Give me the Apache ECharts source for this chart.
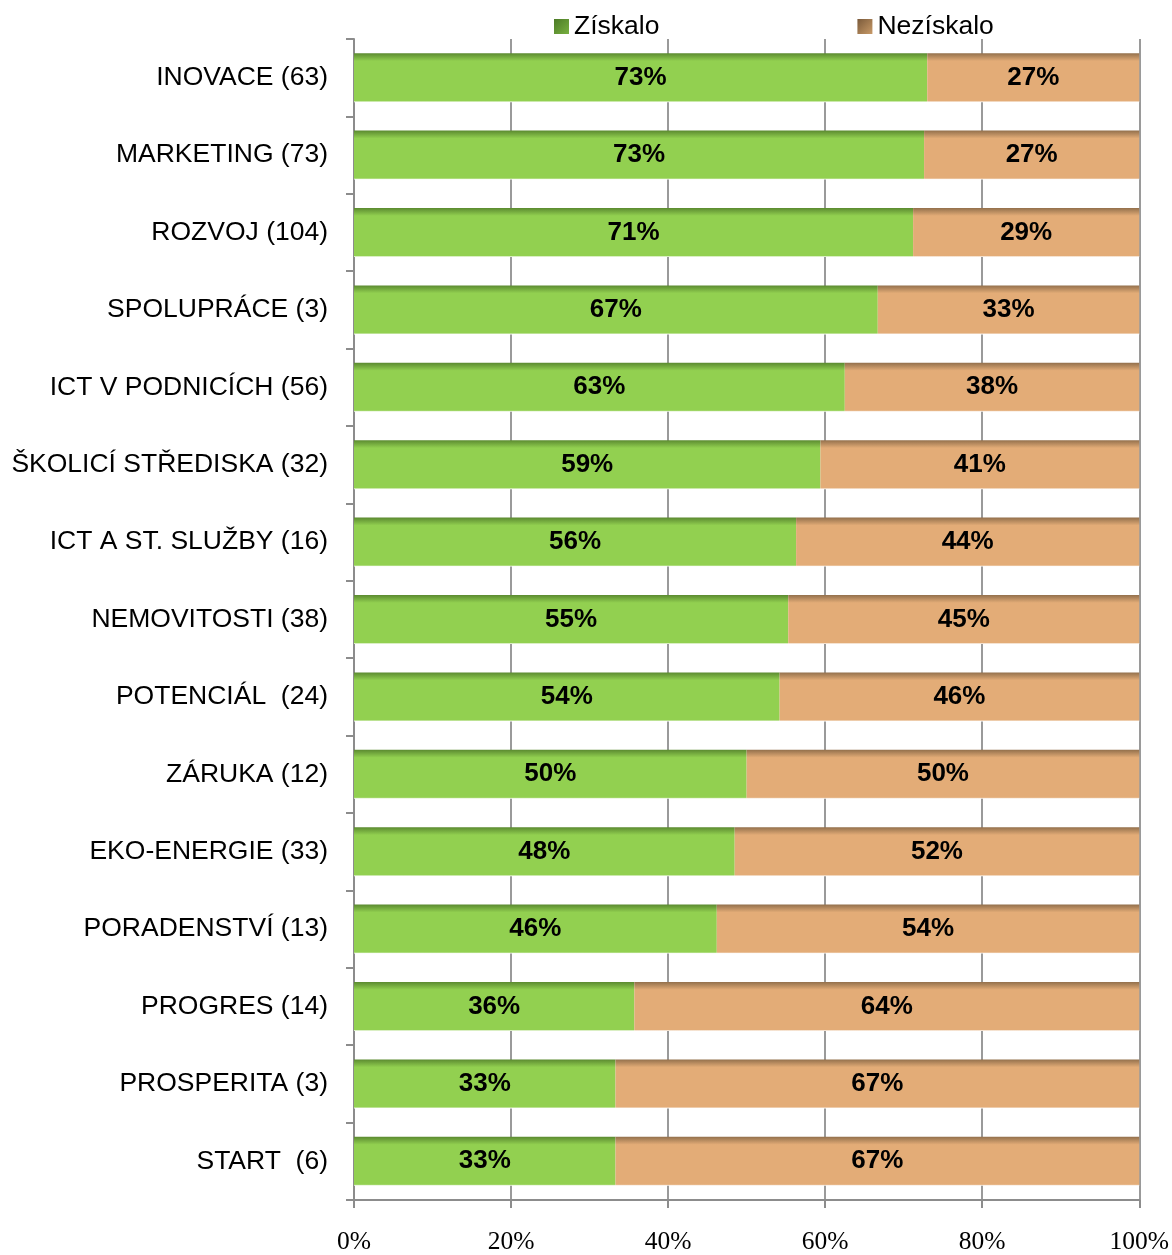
<!DOCTYPE html>
<html>
<head>
<meta charset="utf-8">
<script src="https://cdn.jsdelivr.net/npm/echarts@6/dist/echarts.min.js"></script>
<style>
html,body{margin:0;padding:0;background:#fff;}
#chart{width:1172px;height:1255px;}
</style>
</head>
<body>
<div id="chart"></div>
<script>
var categories = ['INOVACE (63)','MARKETING (73)','ROZVOJ (104)','SPOLUPRÁCE (3)','ICT V PODNICÍCH (56)','ŠKOLICÍ STŘEDISKA (32)','ICT A ST. SLUŽBY (16)','NEMOVITOSTI (38)','POTENCIÁL  (24)','ZÁRUKA (12)','EKO-ENERGIE (33)','PORADENSTVÍ (13)','PROGRES (14)','PROSPERITA (3)','START  (6)'];
var ziskalo = [73.0, 72.6, 71.2, 66.7, 62.5, 59.4, 56.3, 55.3, 54.2, 50.0, 48.48, 46.2, 35.7, 33.3, 33.3];
var neziskalo = [27.0, 27.4, 28.8, 33.3, 37.5, 40.6, 43.7, 44.7, 45.8, 50.0, 51.52, 53.8, 64.3, 66.7, 66.7];
var xTicks = [0, 20, 40, 60, 80, 100];

function vgrad(dark, main){
  return new echarts.graphic.LinearGradient(0,0,0,1,[
    {offset:0,color:dark},{offset:0.16,color:main},{offset:0.97,color:main},{offset:1,color:'#ffffff'}]);
}
var chart = echarts.init(document.getElementById('chart'));
var labelStyle = {show:true, position:'inside', color:'#000', fontFamily:'Liberation Sans, Arial, sans-serif', fontWeight:'bold', fontSize:26,
  formatter:function(p){return Math.round(p.value)+'%';}};
chart.setOption({
  animation:false,
  backgroundColor:'#ffffff',
  legend:{
    left:549, top:8, itemWidth:15, itemHeight:15, itemGap:198,
    textStyle:{fontFamily:'Liberation Sans, Arial, sans-serif', fontSize:26.5, color:'#000'},
    data:[
      {name:'Získalo', icon:'rect', itemStyle:{color:new echarts.graphic.LinearGradient(0,0,1,1,[{offset:0,color:'#4b7a26'},{offset:1,color:'#78b040'}])}},
      {name:'Nezískalo', icon:'rect', itemStyle:{color:new echarts.graphic.LinearGradient(0,0,1,1,[{offset:0,color:'#7a5a3a'},{offset:1,color:'#c89a68'}])}}
    ]
  },
  grid:{left:354, right:31, top:39, bottom:52},
  xAxis:{
    type:'value', min:0, max:100, interval:20,
    axisLine:{show:true, lineStyle:{color:'#8c8c8c', width:2}},
    axisTick:{show:true, length:8, lineStyle:{color:'#8c8c8c', width:2}},
    splitLine:{show:true, lineStyle:{color:'#9a9a9a', width:2}},
    axisLabel:{margin:29, fontFamily:'Liberation Serif, Times New Roman, serif', fontSize:25.5, color:'#000',
      formatter:function(v){return xTicks.indexOf(v)>=0 ? v+'%' : '';}}
  },
  yAxis:{
    type:'category', data:categories, inverse:true,
    axisLine:{show:true, lineStyle:{color:'#8c8c8c', width:2}},
    axisTick:{show:true, length:8, lineStyle:{color:'#8c8c8c', width:2}},
    axisLabel:{margin:26, fontFamily:'Liberation Sans, Arial, sans-serif', fontSize:26.5, color:'#000'}
  },
  series:[
    {name:'Získalo', type:'bar', stack:'a', data:ziskalo, barWidth:49,
      itemStyle:{color:vgrad('#5b8a30','#92D050')}, label:labelStyle},
    {name:'Nezískalo', type:'bar', stack:'a', data:neziskalo, barWidth:49,
      itemStyle:{color:vgrad('#93704c','#E3AC77')}, label:labelStyle}
  ]
});
</script>
</body>
</html>
